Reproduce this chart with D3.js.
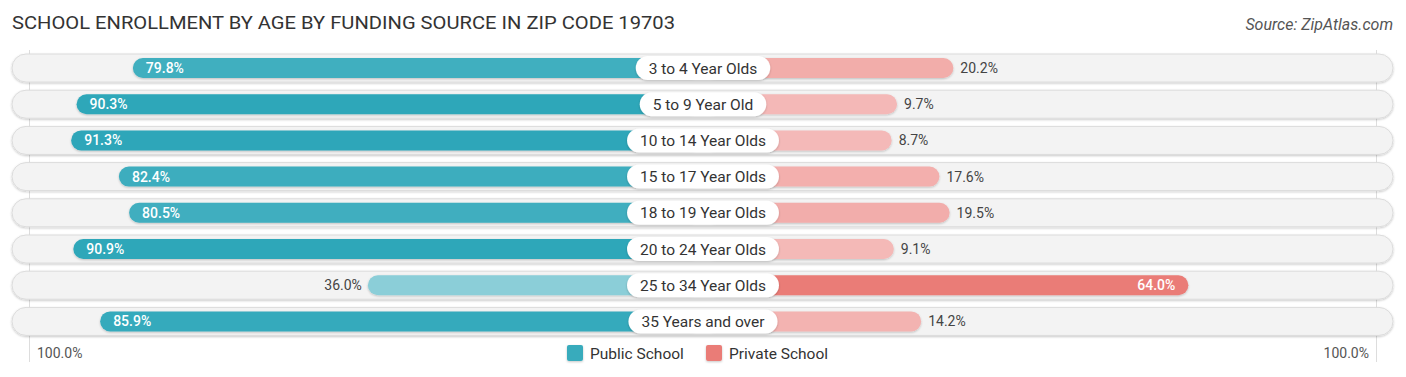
<!DOCTYPE html>
<html>
<head>
<meta charset="utf-8">
<script src="https://cdn.jsdelivr.net/npm/d3@7"></script>
<style>
  body { margin: 0; background: #fff; }
  svg text { font-family: Roboto, "Noto Sans", sans-serif; }
</style>
</head>
<body>
<div id="chart"></div>
<script>
// values
const ageGroups = ["3 to 4 Year Olds", "5 to 9 Year Old", "10 to 14 Year Olds", "15 to 17 Year Olds",
    "18 to 19 Year Olds", "20 to 24 Year Olds", "25 to 34 Year Olds", "35 Years and over"]
const publicSchool = [79.8, 90.3, 91.3, 82.4, 80.5, 90.9, 36.0, 85.9]
const privateSchool = [20.2, 9.7, 8.7, 17.6, 19.5, 9.1, 64.0, 14.2]
const axisLabels = ["100.0%", "100.0%"]
const seriesNames = ["Public School", "Private School"]

const width = 1406, height = 377
const center = 703
const gap = 142          // half of the room kept for the centre label
const rowTop = 68, rowStep = 36.2

const svg = d3.select("#chart").append("svg")
    .attr("width", width)
    .attr("height", height)

const defs = svg.append("defs")
const shadow = defs.append("filter").attr("id", "shadow")
    .attr("x", "-20%").attr("y", "-40%").attr("width", "140%").attr("height", "180%")
shadow.append("feDropShadow").attr("dx", 0).attr("dy", 1).attr("stdDeviation", 1.2)
    .attr("flood-color", "#000").attr("flood-opacity", 0.22)

// width of a bar from the label edge outward
const xLen = d3.scaleLinear().domain([0, 100]).range([0, 536.5])
const y = i => rowTop + i * rowStep

const pubColor = d3.scaleLinear().domain([0, 100]).range(["#c9e8ec", "#1ea0b4"])
const privColor = d3.scaleLinear().domain([0, 100]).range(["#f6c3c2", "#e3544d"])

// title + source
svg.append("text")
    .attr("x", 12).attr("y", 29)
    .attr("font-size", 19)
    .attr("textLength", 663)
    .attr("lengthAdjust", "spacingAndGlyphs")
    .attr("fill", "#333")
    .text("SCHOOL ENROLLMENT BY AGE BY FUNDING SOURCE IN ZIP CODE 19703")

svg.append("text")
    .attr("x", 1393).attr("y", 30)
    .attr("text-anchor", "end")
    .attr("font-size", 16)
    .attr("font-style", "italic")
    .attr("fill", "#555")
    .text("Source: ZipAtlas.com")

// faint 100% guide lines
svg.selectAll(".guide")
    .data([center - gap - xLen(100) + 5, center + gap + xLen(100) - 5])
    .enter()
    .append("line")
    .attr("x1", d => d).attr("x2", d => d)
    .attr("y1", 50).attr("y2", 362)
    .attr("stroke", "#ddd")
    .attr("stroke-width", 1)

const rows = svg.selectAll(".row")
    .data(ageGroups)
    .enter()
    .append("g")
    .attr("class", "row")
    .attr("transform", (d, i) => "translate(0," + y(i) + ")")

// background track
rows.append("rect")
    .attr("x", 12).attr("y", -14)
    .attr("width", 1381).attr("height", 28)
    .attr("rx", 14)
    .attr("fill", "#f3f3f3")
    .attr("stroke", "#dcdcdc")
    .attr("stroke-width", 1)
    .attr("filter", "url(#shadow)")

// public bars (left)
rows.append("rect")
    .attr("x", (d, i) => center - gap - xLen(publicSchool[i]))
    .attr("y", -10)
    .attr("width", (d, i) => gap + xLen(publicSchool[i]) - 2)
    .attr("height", 20)
    .attr("rx", 10)
    .attr("fill", (d, i) => pubColor(publicSchool[i]))
    .attr("filter", "url(#shadow)")

// private bars (right)
rows.append("rect")
    .attr("x", center + 2)
    .attr("y", -10)
    .attr("width", (d, i) => gap + xLen(privateSchool[i]) - 2)
    .attr("height", 20)
    .attr("rx", 10)
    .attr("fill", (d, i) => privColor(privateSchool[i]))
    .attr("filter", "url(#shadow)")

// centre labels with white pills
rows.each(function (d) {
    const g = d3.select(this)
    const t = g.append("text")
        .attr("x", center).attr("y", 5.5)
        .attr("text-anchor", "middle")
        .attr("font-size", 15.5)
        .attr("fill", "#333")
        .text(d)
    const w = t.node().getComputedTextLength() + 26
    g.insert("rect", "text")
        .attr("x", center - w / 2).attr("y", -12)
        .attr("width", w).attr("height", 24)
        .attr("rx", 12)
        .attr("fill", "#fff")
        .attr("filter", "url(#shadow)")
})

// value labels: inside the bar when it is long, outside when short
const insideLimit = 50
rows.append("text")
    .attr("x", (d, i) => {
        const start = center - gap - xLen(publicSchool[i])
        return publicSchool[i] > insideLimit ? start + 13 : start - 6
    })
    .attr("y", 5)
    .attr("text-anchor", (d, i) => publicSchool[i] > insideLimit ? "start" : "end")
    .attr("font-size", 14)
    .attr("font-weight", (d, i) => publicSchool[i] > insideLimit ? 500 : 400)
    .attr("fill", (d, i) => publicSchool[i] > insideLimit ? "#fff" : "#444")
    .text((d, i) => publicSchool[i].toFixed(1) + "%")

rows.append("text")
    .attr("x", (d, i) => {
        const end = center + gap + xLen(privateSchool[i])
        return privateSchool[i] > insideLimit ? end - 13 : end + 7
    })
    .attr("y", 5)
    .attr("text-anchor", (d, i) => privateSchool[i] > insideLimit ? "end" : "start")
    .attr("font-size", 14)
    .attr("font-weight", (d, i) => privateSchool[i] > insideLimit ? 500 : 400)
    .attr("fill", (d, i) => privateSchool[i] > insideLimit ? "#fff" : "#444")
    .text((d, i) => privateSchool[i].toFixed(1) + "%")

// bottom axis ends
svg.append("text")
    .attr("x", 37).attr("y", 358)
    .attr("font-size", 14).attr("fill", "#555")
    .text(axisLabels[0])
svg.append("text")
    .attr("x", 1369).attr("y", 358)
    .attr("text-anchor", "end")
    .attr("font-size", 14).attr("fill", "#555")
    .text(axisLabels[1])

// legend
const legendX = [567, 706]
const legendColors = [pubColor(85), privColor(64)]
const legend = svg.selectAll(".legend")
    .data(seriesNames)
    .enter()
    .append("g")
    .attr("transform", (d, i) => "translate(" + legendX[i] + ",345)")
legend.append("rect")
    .attr("width", 16).attr("height", 16)
    .attr("rx", 2)
    .attr("fill", (d, i) => legendColors[i])
    .attr("filter", "url(#shadow)")
legend.append("text")
    .attr("x", 23).attr("y", 14)
    .attr("font-size", 15.5)
    .attr("fill", "#333")
    .text(d => d)
</script>
</body>
</html>
